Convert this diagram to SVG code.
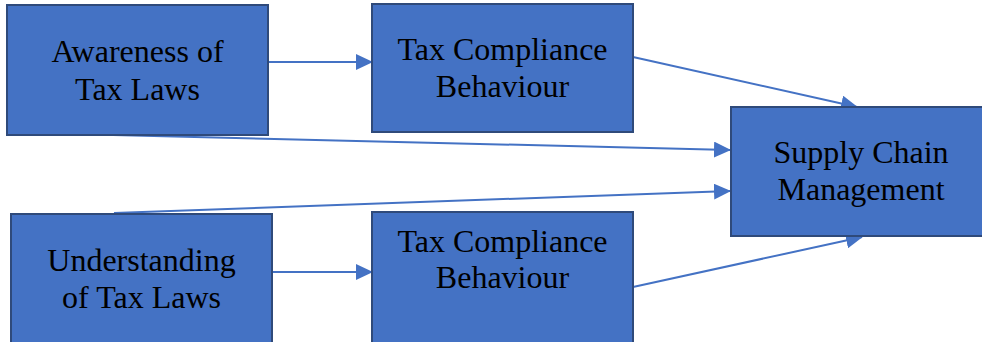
<svg xmlns="http://www.w3.org/2000/svg" width="982" height="342" viewBox="0 0 982 342">
  <style>
    .box { fill: #4472C4; stroke: #2F4A7A; stroke-width: 2; }
    .label { font-family: "Liberation Serif", "Times New Roman", serif; font-size: 32px; fill: #000; text-anchor: middle; }
    .link { stroke: #4472C4; stroke-width: 2; fill: none; marker-end: url(#arrow); }
  </style>
  <defs>
    <marker id="arrow" markerUnits="userSpaceOnUse" markerWidth="17" markerHeight="16" refX="16" refY="8" orient="auto">
      <path d="M0,0 L17,8 L0,16 Z" fill="#4472C4"/>
    </marker>
  </defs>

  <rect width="982" height="342" fill="#fff"/>

  <g id="connectors">
    <line class="link" x1="268" y1="62" x2="372" y2="62"/>
    <line class="link" x1="633" y1="57" x2="857" y2="107"/>
    <line class="link" x1="113" y1="135" x2="730" y2="150"/>
    <line class="link" x1="114" y1="213" x2="730" y2="191"/>
    <line class="link" x1="272" y1="272" x2="372" y2="272"/>
    <line class="link" x1="633" y1="287" x2="862" y2="237"/>
  </g>

  <g id="awareness">
    <rect class="box" x="7" y="5" width="261" height="130"/>
    <text class="label" x="137.5" y="62">Awareness of</text>
    <text class="label" x="137.5" y="100">Tax Laws</text>
  </g>

  <g id="compliance-top">
    <rect class="box" x="372" y="4" width="261" height="128"/>
    <text class="label" x="502.5" y="60">Tax Compliance</text>
    <text class="label" x="502.5" y="97">Behaviour</text>
  </g>

  <g id="supply-chain">
    <rect class="box" x="731" y="107" width="252" height="129"/>
    <text class="label" x="861" y="163">Supply Chain</text>
    <text class="label" x="861" y="200">Management</text>
  </g>

  <g id="understanding">
    <rect class="box" x="11" y="214" width="261" height="135"/>
    <text class="label" x="141.5" y="271">Understanding</text>
    <text class="label" x="141.5" y="308">of Tax Laws</text>
  </g>

  <g id="compliance-bottom">
    <rect class="box" x="372" y="212" width="261" height="137"/>
    <text class="label" x="502.5" y="252">Tax Compliance</text>
    <text class="label" x="502.5" y="288">Behaviour</text>
  </g>
</svg>
